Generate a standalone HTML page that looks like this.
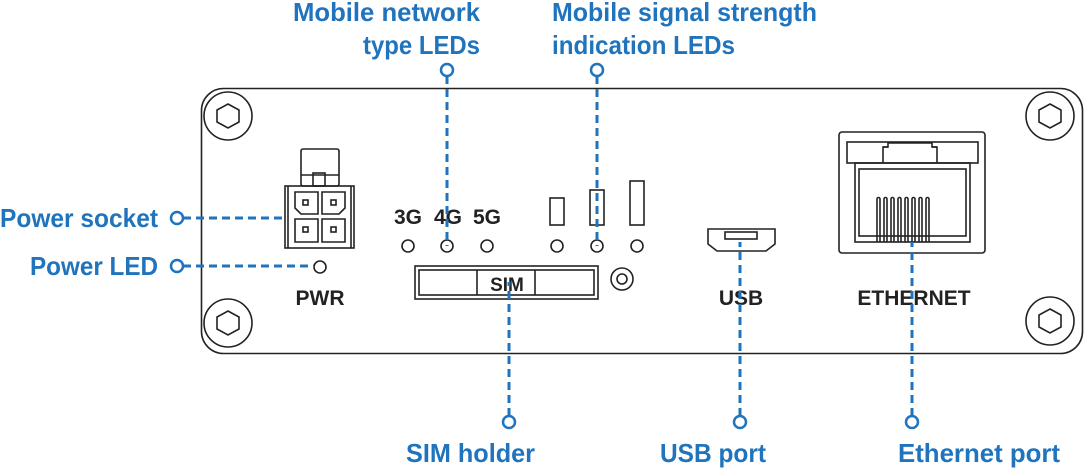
<!DOCTYPE html>
<html><head><meta charset="utf-8"><style>
html,body{margin:0;padding:0;background:#fff;width:1084px;height:468px;overflow:hidden}
svg{display:block}
.lb{font-family:"Liberation Sans",sans-serif;font-size:26px;fill:#1f74bd;font-weight:bold}
.dk{font-family:"Liberation Sans",sans-serif;font-size:21px;fill:#222;font-weight:bold}
.d{stroke:#1f74bd;stroke-width:3;stroke-dasharray:8,5;fill:none}
.c{stroke:#1f74bd;stroke-width:2.5;fill:#fff}
.k{stroke:#222;stroke-width:1.6;fill:none}
</style></head><body>
<svg width="1084" height="468" viewBox="0 0 1084 468">
<rect x="201.5" y="88.5" width="881" height="265" rx="22" class="k" stroke-width="2"/>
<g class="k">
<circle cx="228" cy="116" r="24"/><polygon points="228,104 239,110 239,122 228,128 217,122 217,110"/>
<circle cx="1050" cy="116" r="24"/><polygon points="1050,104 1061,110 1061,122 1050,128 1039,122 1039,110"/>
<circle cx="228" cy="323" r="24"/><polygon points="228,311 239,317 239,329 228,335 217,329 217,317"/>
<circle cx="1050" cy="321" r="24"/><polygon points="1050,309 1061,315 1061,327 1050,333 1039,327 1039,315"/>
<rect x="301" y="149" width="38" height="37" rx="2"/>
<rect x="313" y="173" width="12" height="13"/>
<line x1="301" y1="175" x2="339" y2="175"/>
<rect x="285" y="186" width="69" height="62"/>
<line x1="288" y1="186" x2="288" y2="248"/><line x1="351" y1="186" x2="351" y2="248"/>
<path d="M295 192h23v22h-17l-6-6z"/><path d="M322 192h23v16l-6 6h-17z"/>
<path d="M295 219h23v23h-23z"/><path d="M322 219h23v23h-23z"/>
<rect x="303" y="200" width="5" height="5"/><rect x="331" y="200" width="5" height="5"/>
<rect x="303" y="227" width="5" height="5"/><rect x="331" y="227" width="5" height="5"/>
<circle cx="320" cy="267" r="6"/>
<circle cx="408" cy="246" r="6"/><circle cx="447" cy="246" r="6"/><circle cx="487" cy="246" r="6"/>
<circle cx="557" cy="246" r="6"/><circle cx="597" cy="246" r="6"/><circle cx="637" cy="246" r="6"/>
<rect x="550" y="198" width="14" height="27"/><rect x="590" y="190" width="14" height="35"/><rect x="630" y="181" width="14" height="44"/>
<rect x="415" y="266" width="183" height="33"/><rect x="419" y="270" width="175" height="25"/>
<line x1="477" y1="270" x2="477" y2="295"/><line x1="535" y1="270" x2="535" y2="295"/>
<circle cx="622" cy="279" r="11"/><circle cx="622" cy="279" r="5"/>
<path d="M708 229h67v15l-9 7h-49l-9-7z"/><rect x="725" y="232" width="32" height="7"/>
<rect x="839" y="132" width="146" height="121" rx="3"/>
<rect x="847" y="142" width="131" height="21"/>
<path d="M883 163v-16h5v-4h44v4h5v16"/><line x1="883" y1="147" x2="888" y2="147"/><line x1="932" y1="147" x2="937" y2="147"/>
<rect x="855" y="163" width="115" height="79"/><rect x="859" y="169" width="107" height="67"/>
<path d="M877 242v-43a1 1 0 0 1 3 0v43M884 242v-43a1 1 0 0 1 3 0v43M891 242v-43a1 1 0 0 1 3 0v43M898 242v-43a1 1 0 0 1 3 0v43M905 242v-43a1 1 0 0 1 3 0v43M912 242v-43a1 1 0 0 1 3 0v43M919 242v-43a1 1 0 0 1 3 0v43M926 242v-43a1 1 0 0 1 3 0v43"/>
</g>
<g class="dk" text-anchor="middle">
<text x="408" y="224">3G</text><text x="448" y="224">4G</text><text x="487" y="224">5G</text>
<text x="320" y="305">PWR</text><text x="507" y="291" font-size="19">SIM</text>
<text x="741" y="305">USB</text><text x="914" y="305">ETHERNET</text>
</g>
<g>
<path class="d" d="M447 76V246M597 76V246M183 218H285M183 266H314M509 416V282M740 416V242M912 416V242"/>
<circle class="c" cx="447" cy="70" r="6"/><circle class="c" cx="597" cy="70" r="6"/>
<circle class="c" cx="177" cy="218" r="6"/><circle class="c" cx="177" cy="266" r="6"/>
<circle class="c" cx="509" cy="422" r="6"/><circle class="c" cx="740" cy="422" r="6"/><circle class="c" cx="912" cy="422" r="6"/>
</g>
<g class="lb">
<text x="293" y="21" textLength="187" lengthAdjust="spacingAndGlyphs">Mobile network</text>
<text x="363" y="54" textLength="117" lengthAdjust="spacingAndGlyphs">type LEDs</text>
<text x="552" y="21" textLength="265" lengthAdjust="spacingAndGlyphs">Mobile signal strength</text>
<text x="552" y="54" textLength="183" lengthAdjust="spacingAndGlyphs">indication LEDs</text>
<text x="0" y="227" textLength="158" lengthAdjust="spacingAndGlyphs">Power socket</text>
<text x="30" y="275" textLength="128" lengthAdjust="spacingAndGlyphs">Power LED</text>
<text x="406" y="462" textLength="129" lengthAdjust="spacingAndGlyphs">SIM holder</text>
<text x="660" y="462" textLength="106" lengthAdjust="spacingAndGlyphs">USB port</text>
<text x="898" y="462" textLength="162" lengthAdjust="spacingAndGlyphs">Ethernet port</text>
</g>
</svg>
</body></html>
